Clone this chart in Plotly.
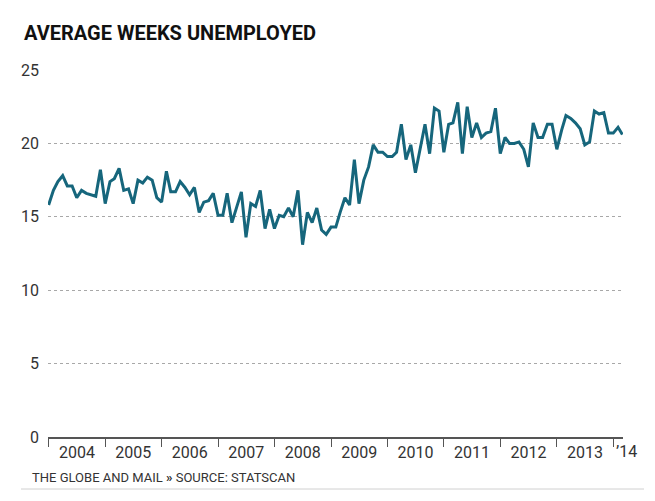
import pandas as pd
import plotly.graph_objects as go

# Monthly average weeks unemployed, Jan 2004 - Mar 2014
v2004 = [15.8, 16.8, 17.4, 17.8, 17.1, 17.1, 16.3, 16.8, 16.6, 16.5, 16.4, 18.2]
v2005 = [15.9, 17.4, 17.6, 18.3, 16.8, 16.9, 15.9, 17.5, 17.3, 17.7, 17.5, 16.3]
v2006 = [16.0, 18.1, 16.7, 16.7, 17.4, 17.0, 16.5, 17.0, 15.3, 16.0, 16.1, 16.6]
v2007 = [15.1, 15.1, 16.6, 14.6, 15.7, 16.7, 13.6, 15.9, 15.7, 16.8, 14.2, 15.5]
v2008 = [14.2, 15.1, 15.0, 15.6, 15.0, 16.8, 13.1, 15.3, 14.6, 15.6, 14.1, 13.8]
v2009 = [14.3, 14.3, 15.3, 16.3, 15.8, 18.9, 15.9, 17.5, 18.4, 19.9, 19.4, 19.4]
v2010 = [19.1, 19.1, 19.4, 21.3, 18.9, 19.9, 18.0, 19.6, 21.3, 19.3, 22.4, 22.2]
v2011 = [19.4, 21.3, 21.4, 22.8, 19.3, 22.5, 20.4, 21.4, 20.4, 20.7, 20.8, 22.4]
v2012 = [19.3, 20.4, 20.0, 20.0, 20.1, 19.6, 18.4, 21.4, 20.4, 20.4, 21.3, 21.3]
v2013 = [19.6, 20.9, 21.9, 21.7, 21.4, 21.0, 19.9, 20.1, 22.2, 22.0, 22.1, 20.7]
v2014 = [20.7, 21.1, 20.6]

values = v2004 + v2005 + v2006 + v2007 + v2008 + v2009 + v2010 + v2011 + v2012 + v2013 + v2014
months = pd.date_range("2004-01-01", periods=len(values), freq="MS")

year_labels = ["2004", "2005", "2006", "2007", "2008", "2009", "2010", "2011", "2012", "2013"]
label_positions = [f"{y}-07-02" for y in year_labels]
year_bounds = [f"{y}-01-01" for y in range(2004, 2015)]
y_ticks = [0, 5, 10, 15, 20, 25]

fig = go.Figure()
fig.add_trace(go.Scatter(
    x=months, y=values, mode="lines",
    line=dict(color="#16667c", width=3), hoverinfo="skip", showlegend=False,
))

fig.update_layout(
    width=655, height=501,
    margin=dict(l=48, r=32, t=70, b=64),
    paper_bgcolor="white", plot_bgcolor="white",
    font=dict(family="Roboto, sans-serif", color="#333"),
    title=dict(text="<b>AVERAGE WEEKS UNEMPLOYED</b>", xref="container", yref="container",
               x=24/655, y=1-33/501, xanchor="left", yanchor="middle",
               font=dict(size=20, color="#111", family="Roboto, sans-serif")),
    xaxis=dict(
        range=["2003-12-28", "2014-03-05"],
        tickmode="array", tickvals=label_positions, ticktext=year_labels,
        ticks="", showgrid=False, zeroline=False,
        showline=True, linecolor="#555", linewidth=2,
        tickfont=dict(size=16, color="#333"),
        minor=dict(tickmode="array", tickvals=year_bounds, ticks="outside",
                   ticklen=8, tickwidth=1, tickcolor="#555", showgrid=False),
    ),
    yaxis=dict(
        range=[0, 25], tickmode="array", tickvals=y_ticks,
        showgrid=True, gridcolor="#a8a8a8", griddash="dot", gridwidth=1,
        zeroline=False, showline=False, ticks="",
        tickfont=dict(size=16, color="#333"), ticklabelstandoff=8,
    ),
    annotations=[
        dict(text="\u201914", xref="x", yref="paper", x="2014-01-01", y=0,
             xanchor="left", yanchor="top", xshift=1, yshift=-3, showarrow=False,
             font=dict(size=16, color="#333")),
        dict(text="THE GLOBE AND MAIL <b>\u00bb</b> SOURCE: STATSCAN", xref="paper", yref="paper",
             x=(30-48)/575, y=(437-477)/367, xanchor="left", yanchor="middle", showarrow=False,
             font=dict(size=13, color="#333")),
    ],
    shapes=[
        dict(type="line", xref="paper", yref="paper",
             x0=(21-48)/575, x1=(644-48)/575, y0=(437-489)/367, y1=(437-489)/367,
             line=dict(color="#d0d0d0", width=1)),
    ],
)

fig.write_html("out.html", config={"displayModeBar": False},
               post_script="document.body.style.margin='0';")
